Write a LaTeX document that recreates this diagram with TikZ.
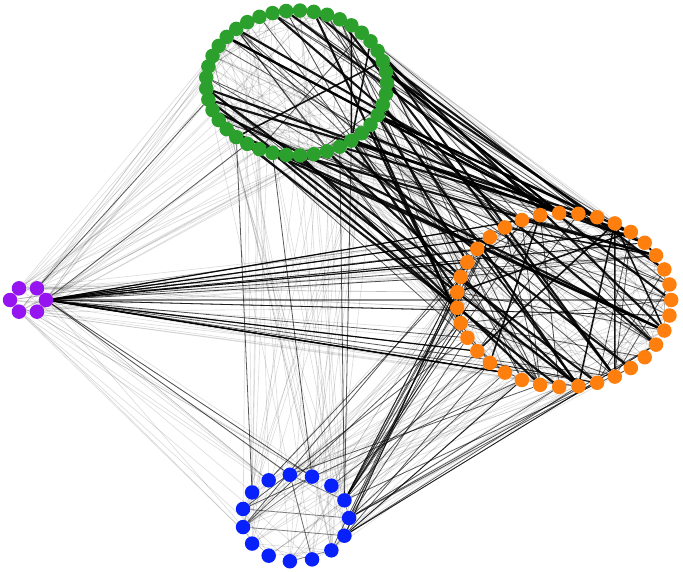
\documentclass[tikz,border=0pt]{standalone}
\usepackage{xcolor}
\usepackage{tikz}
\usetikzlibrary{backgrounds}
\definecolor{ClusterGreen}{RGB}{44, 160, 44}
\definecolor{ClusterOrange}{RGB}{255, 127, 14}
\definecolor{ClusterBlue}{RGB}{8, 32, 250}
\definecolor{ClusterPurple}{RGB}{150, 20, 240}

\begin{document}
\begin{tikzpicture}[x=1pt, y=-1pt,
    member/.style={circle, inner sep=0pt, minimum size=14.5pt},
    weaklink/.style={black, opacity=0.14, line width=0.6pt},
    midlink/.style={black, opacity=0.65, line width=0.8pt},
    stronglink/.style={black, opacity=0.92, line width=2.2pt}]
    \useasboundingbox (0,0) rectangle (683,572);

    % 四个社团：环形排列
    \foreach \k in {0,...,40}
        \node[member, fill=ClusterGreen] (g\k) at ({296.5+90.5*cos(360*\k/41)}, {83-72.5*sin(360*\k/41)}) {};
    \foreach \k in {0,...,34}
        \node[member, fill=ClusterOrange] (o\k) at ({564+107.2*cos(360*\k/35)}, {300-87*sin(360*\k/35)}) {};
    \foreach \k in {0,...,14}
        \node[member, fill=ClusterBlue] (b\k) at ({295.5+53.6*cos(360*\k/15)}, {518-43.5*sin(360*\k/15)}) {};
    \foreach \k in {0,...,5}
        \node[member, fill=ClusterPurple] (p\k) at ({28+18*cos(60*\k)}, {300-13.5*sin(60*\k)}) {};

    \begin{pgfonlayer}{background}
    \pgfmathsetseed{2024}
    % 淡灰色：弱连接
    \foreach \n in {1,...,90} {
        \pgfmathrandominteger{\a}{0}{40}\pgfmathrandominteger{\b}{0}{34}
        \draw[weaklink] (g\a) -- (o\b);
    }
    \foreach \n in {1,...,40} {
        \pgfmathrandominteger{\a}{0}{40}\pgfmathrandominteger{\b}{0}{14}
        \draw[weaklink] (g\a) -- (b\b);
    }
    \foreach \n in {1,...,34} {
        \pgfmathrandominteger{\a}{0}{40}\pgfmathrandominteger{\b}{0}{5}
        \draw[weaklink] (g\a) -- (p\b);
    }
    \foreach \n in {1,...,50} {
        \pgfmathrandominteger{\a}{0}{34}\pgfmathrandominteger{\b}{0}{14}
        \draw[weaklink] (o\a) -- (b\b);
    }
    \foreach \n in {1,...,30} {
        \pgfmathrandominteger{\a}{0}{34}\pgfmathrandominteger{\b}{0}{5}
        \draw[weaklink] (o\a) -- (p\b);
    }
    \foreach \n in {1,...,18} {
        \pgfmathrandominteger{\a}{0}{14}\pgfmathrandominteger{\b}{0}{5}
        \draw[weaklink] (b\a) -- (p\b);
    }
    \foreach \n in {1,...,40} {
        \pgfmathrandominteger{\a}{0}{40}\pgfmathrandominteger{\b}{0}{40}
        \draw[weaklink] (g\a) -- (g\b);
    }
    \foreach \n in {1,...,60} {
        \pgfmathrandominteger{\a}{0}{34}\pgfmathrandominteger{\b}{0}{34}
        \draw[weaklink] (o\a) -- (o\b);
    }
    \foreach \n in {1,...,12} {
        \pgfmathrandominteger{\a}{0}{14}\pgfmathrandominteger{\b}{0}{14}
        \draw[weaklink] (b\a) -- (b\b);
    }

    % 中等连接
    \foreach \n in {1,...,34} {
        \pgfmathrandominteger{\a}{0}{40}\pgfmathrandominteger{\b}{0}{34}
        \draw[midlink] (g\a) -- (o\b);
    }
    \foreach \n in {1,...,26} {
        \pgfmathrandominteger{\a}{-1}{1}\pgfmathrandominteger{\b}{8}{34}
        \pgfmathtruncatemacro{\a}{mod(\a+15,15)}
        \draw[midlink] (b\a) -- (o\b);
    }
    \foreach \n in {1,...,8} {
        \pgfmathrandominteger{\a}{0}{14}\pgfmathrandominteger{\b}{14}{32}
        \draw[midlink] (b\a) -- (o\b);
    }
    \foreach \n in {1,...,18} {
        \pgfmathrandominteger{\b}{0}{34}
        \draw[midlink] (p0) -- (o\b);
    }
    \foreach \n in {1,...,25} {
        \pgfmathrandominteger{\a}{0}{34}\pgfmathrandominteger{\b}{0}{34}
        \draw[midlink] (o\a) -- (o\b);
    }
    \foreach \n in {1,...,8} {
        \pgfmathrandominteger{\a}{0}{40}\pgfmathrandominteger{\b}{0}{40}
        \draw[midlink] (g\a) -- (g\b);
    }
    \foreach \n in {1,...,8} {
        \pgfmathrandominteger{\a}{0}{14}\pgfmathrandominteger{\b}{0}{14}
        \draw[midlink, opacity=0.5] (b\a) -- (b\b);
    }
    \draw[midlink] (g26) -- (b6);
    \draw[midlink] (g34) -- (b1);
    \draw[midlink] (g35) -- (b1);
    \draw[midlink] (g29) -- (b3);
    \draw[midlink] (p0) -- (b4);
    \draw[midlink] (p0) -- (b3);
    \draw[midlink] (p1) -- (g22);
    \draw[midlink] (p0) -- (g27);
    \draw[black, opacity=0.45, line width=1.6pt] (p0) -- (o0);

    % 粗线：强连接
    \foreach \n in {1,...,24} {
        \pgfmathrandominteger{\a}{0}{40}\pgfmathrandominteger{\b}{-6}{9}
        \pgfmathtruncatemacro{\b}{mod(\b+35,35)}
        \draw[stronglink] (g\a) -- (o\b);
    }
    \foreach \n in {1,...,11} {
        \pgfmathrandominteger{\a}{0}{40}\pgfmathrandominteger{\b}{15}{29}
        \draw[stronglink] (g\a) -- (o\b);
    }
    \foreach \n in {1,...,12} {
        \pgfmathrandominteger{\a}{0}{34}\pgfmathrandominteger{\b}{0}{34}
        \draw[stronglink, line width=1.6pt] (o\a) -- (o\b);
    }
    \foreach \n in {1,...,5} {
        \pgfmathrandominteger{\a}{0}{40}\pgfmathrandominteger{\b}{0}{40}
        \draw[stronglink, line width=1.6pt] (g\a) -- (g\b);
    }
    \foreach \n in {1,...,6} {
        \pgfmathrandominteger{\b}{10}{26}
        \draw[stronglink, line width=1.2pt] (p0) -- (o\b);
    }
    \end{pgfonlayer}
\end{tikzpicture}
\end{document}
